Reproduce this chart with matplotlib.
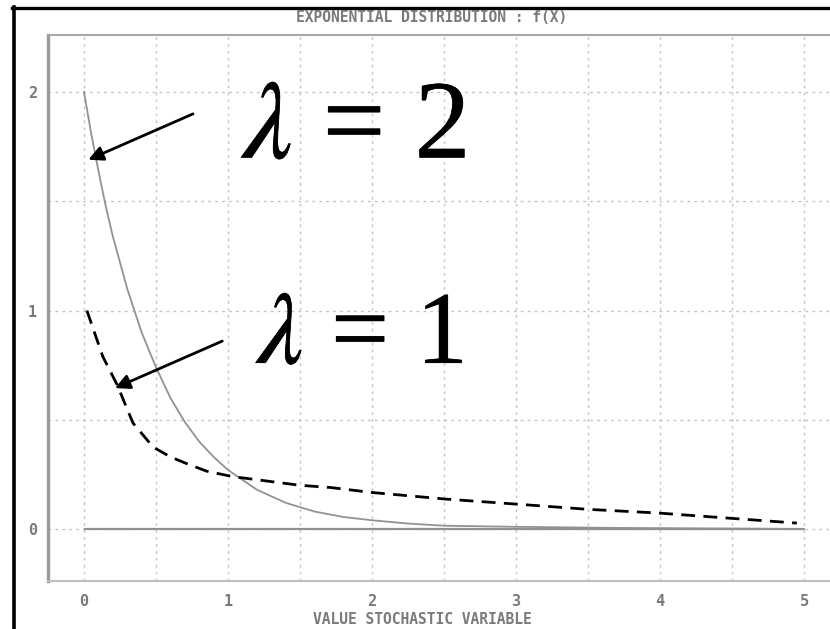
import numpy as np
import matplotlib
matplotlib.use("Agg")
import matplotlib.pyplot as plt
from matplotlib.lines import Line2D
from matplotlib.ticker import MultipleLocator
import matplotlib.patheffects as pe

plt.rcParams['mathtext.fontset'] = 'custom'
plt.rcParams['mathtext.rm'] = 'Liberation Serif'
plt.rcParams['mathtext.it'] = 'STIXGeneral:italic'

# values
# lambda = 2 curve (solid gray)
x_lam2 = [0, 0.05, 0.1, 0.15, 0.2, 0.3, 0.4, 0.5, 0.6, 0.7, 0.8, 0.9, 1.0,
          1.2, 1.4, 1.6, 1.8, 2.0, 2.25, 2.5, 3.0, 3.7, 5.0]
y_lam2 = [2.0, 1.81, 1.64, 1.48, 1.34, 1.10, 0.90, 0.74, 0.60, 0.49, 0.40, 0.33, 0.27,
          0.18, 0.12, 0.08, 0.055, 0.04, 0.025, 0.015, 0.01, 0.005, 0.0]

# lambda = 1 curve (dashed, hand drawn)
x_lam1 = [0.02, 0.13, 0.23, 0.34, 0.48, 0.6, 0.71, 0.85, 1.03, 1.5, 1.71, 2.0,
          2.51, 3.0, 3.5, 3.99, 4.95]
y_lam1 = [1.0, 0.79, 0.66, 0.485, 0.375, 0.33, 0.30, 0.265, 0.24, 0.20, 0.19, 0.167,
          0.137, 0.114, 0.09, 0.073, 0.027]

x_domain = [0, 5]
x_ticks = [0, 1, 2, 3, 4, 5]
y_ticks = [0, 1, 2]
labels = [r'$\lambda\,=\,2$', r'$\lambda\,=\,1$']

W, H = 830, 629
fig = plt.figure(figsize=(W / 100, H / 100), dpi=100)
fig.patch.set_facecolor('white')

# axes box in pixels: left 48, top 35, bottom 581, runs off the right edge
ax = fig.add_axes([48 / W, (H - 581) / H, (W - 48) / W, (581 - 35) / H])
ax.set_xlim(-0.25, 5.18)
ax.set_ylim(-0.238, 2.261)

ax.xaxis.set_minor_locator(MultipleLocator(0.5))
ax.yaxis.set_minor_locator(MultipleLocator(0.5))
ax.set_xticks(x_ticks)
ax.set_yticks(y_ticks)
ax.grid(which='both', color='#c4c4c4', linestyle=(0, (2, 3)), linewidth=1)
ax.set_axisbelow(True)
ax.tick_params(which='both', length=0)
ax.tick_params(axis='x', pad=9, labelsize=11, labelcolor='#7a7a7a')
ax.tick_params(axis='y', pad=8, labelsize=11, labelcolor='#7a7a7a')
for lab in ax.get_xticklabels() + ax.get_yticklabels():
    lab.set_family('DejaVu Sans Mono')
    lab.set_weight('bold')

ax.spines['left'].set_color('#9a9a9a')
ax.spines['left'].set_linewidth(2.4)
ax.spines['top'].set_color('#a8a8a8')
ax.spines['top'].set_linewidth(1.5)
ax.spines['bottom'].set_color('#c0c0c0')
ax.spines['bottom'].set_linewidth(1.5)
ax.spines['right'].set_visible(False)

# baseline and curves
ax.hlines(0, x_domain[0], x_domain[1], color='#909090', linewidth=1.6)
ax.plot(x_lam2, y_lam2, color='#929292', linewidth=1.3)
ax.plot(x_lam1, y_lam1, color='black', linewidth=2, dashes=(5, 3))

# big lambda labels, a touch heavier than plain Liberation Serif
heavy = [pe.withStroke(linewidth=0.5, foreground='black')]
ax.text(1.10, 1.70, labels[0], fontsize=80, color='black', ha='left', va='baseline',
        path_effects=heavy)
ax.text(1.20, 0.76, labels[1], fontsize=74, color='black', ha='left', va='baseline',
        path_effects=heavy)

# arrows pointing to the curves
arrow = dict(arrowstyle='-|>', color='black', lw=2, mutation_scale=22,
             shrinkA=0, shrinkB=0)
ax.annotate('', xy=(0.03, 1.69), xytext=(0.757, 1.90), arrowprops=arrow)
ax.annotate('', xy=(0.215, 0.645), xytext=(0.96, 0.86), arrowprops=arrow)

# title and x label in pixel style
fig.text(432 / W, 1 - 18 / H, 'EXPONENTIAL DISTRIBUTION : f(X)', family='DejaVu Sans Mono',
         weight='bold', fontsize=10.5, color='#7a7a7a', ha='center', va='center')
fig.text(422 / W, 1 - 619 / H, 'VALUE STOCHASTIC VARIABLE', family='DejaVu Sans Mono',
         weight='bold', fontsize=10.5, color='#7a7a7a', ha='center', va='center')

# black frame on top and left
fig.add_artist(Line2D([12 / W, 1], [1 - 8 / H, 1 - 8 / H], color='black',
                      linewidth=2.4, transform=fig.transFigure))
fig.add_artist(Line2D([13.5 / W, 13.5 / W], [0, 1 - 7 / H], color='black',
                      linewidth=2.6, transform=fig.transFigure))

fig.savefig('out.png', dpi=100)
